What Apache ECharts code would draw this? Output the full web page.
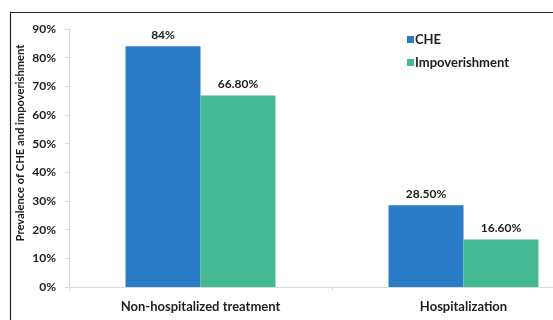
<!DOCTYPE html>
<html>
<head>
<meta charset="utf-8">
<script src="https://cdn.jsdelivr.net/npm/echarts@6/dist/echarts.min.js"></script>
<style>
  html, body { margin: 0; padding: 0; background: #fff; }
  #chart { width: 553px; height: 320px; }
</style>
</head>
<body>
<div id="chart"></div>
<script>
// Care settings and prevalence (%) for each outcome
var categories = ['Non-hospitalized treatment', 'Hospitalization'];
var cheValues = [84, 28.5];
var impoverishmentValues = [66.8, 16.6];
var yTicks = [0, 10, 20, 30, 40, 50, 60, 70, 80, 90];

var FONT = 'Lato, "Open Sans", sans-serif';
var INK = '#1e1e1e';

function pctLabel(p) {
  var v = p.value;
  return (Number.isInteger(v) ? String(v) : v.toFixed(2)) + '%';
}

var chart = echarts.init(document.getElementById('chart'), null, { renderer: 'canvas' });
chart.setOption({
  animation: false,
  backgroundColor: '#ffffff',
  graphic: [{
    type: 'rect',
    left: 8, top: 10,
    shape: { width: 560, height: 330 },
    style: { fill: 'none', stroke: '#222', lineWidth: 1.2 },
    silent: true
  }],
  legend: {
    orient: 'vertical',
    left: 402, top: 28,
    itemWidth: 7, itemHeight: 7,
    itemGap: 10,
    icon: 'rect',
    textStyle: { fontFamily: FONT, fontWeight: 'bold', fontSize: 13, color: INK, padding: [0, 0, 0, -4] },
    data: ['CHE', 'Impoverishment']
  },
  // the plot runs past the right edge of the canvas
  grid: { left: 69, width: 526, top: 29, bottom: 33, containLabel: false, outerBoundsMode: 'none' },
  xAxis: {
    type: 'category',
    data: categories,
    axisLine: { lineStyle: { color: '#d9d9d9', width: 1 } },
    axisTick: { show: true, length: 4, lineStyle: { color: '#d9d9d9' } },
    axisLabel: { fontFamily: FONT, fontWeight: 'bold', fontSize: 13, color: INK, margin: 13 }
  },
  yAxis: {
    type: 'value',
    min: 0, max: 90, interval: 10,
    name: 'Prevalence of CHE and impoverishment',
    nameLocation: 'middle',
    nameGap: 43,
    nameMoveOverlap: false,
    nameRotate: 90,
    nameTextStyle: { fontFamily: FONT, fontWeight: 'bold', fontSize: 11.2, color: INK, padding: [0, 0, 0, 30] },
    axisLine: { show: true, lineStyle: { color: '#d9d9d9' } },
    axisTick: { show: true, length: 4, lineStyle: { color: '#d9d9d9' } },
    splitLine: { show: false },
    axisLabel: {
      fontFamily: FONT, fontWeight: 'bold', fontSize: 12, color: INK, margin: 13,
      formatter: function (v) { return yTicks.indexOf(v) >= 0 ? v + '%' : ''; }
    }
  },
  series: [
    {
      name: 'CHE', type: 'bar', data: cheValues,
      barGap: '0%', barCategoryGap: '43%',
      itemStyle: { color: '#2a7bc8' },
      label: { show: true, position: 'top', distance: 5, formatter: pctLabel,
        fontFamily: FONT, fontWeight: 'bold', fontSize: 12, color: INK }
    },
    {
      name: 'Impoverishment', type: 'bar', data: impoverishmentValues,
      itemStyle: { color: '#45b993' },
      label: { show: true, position: 'top', distance: 5, formatter: pctLabel,
        fontFamily: FONT, fontWeight: 'bold', fontSize: 12, color: INK }
    }
  ]
});
</script>
</body>
</html>
